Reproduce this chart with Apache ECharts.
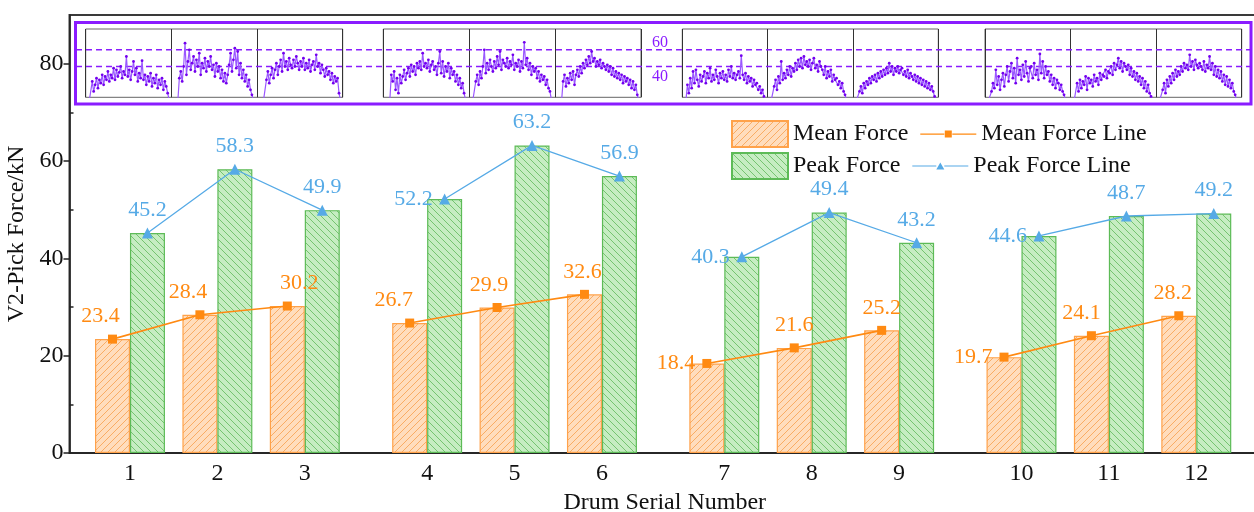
<!DOCTYPE html>
<html><head><meta charset="utf-8">
<script src="https://cdn.jsdelivr.net/npm/echarts@6/dist/echarts.min.js"></script>
<style>html,body{margin:0;padding:0;background:#fff}#c{width:1254px;height:512px}</style>
</head><body><div id="c"></div>
<script>
// ---------------- data ----------------
const drums = ['1','2','3','4','5','6','7','8','9','10','11','12'];
const meanForce = [23.4, 28.4, 30.2, 26.7, 29.9, 32.6, 18.4, 21.6, 25.2, 19.7, 24.1, 28.2];
const peakForce = [45.2, 58.3, 49.9, 52.2, 63.2, 56.9, 40.3, 49.4, 43.2, 44.6, 48.7, 49.2];
const yTicks = [0, 20, 40, 60, 80];
const yMinorTicks = [10, 30, 50, 70];
const insetLevels = [40, 60];
// force signals shown in the inset (one per drum, kN)
const sig1  = [0,0,0,0,22,10,18,26,14,24,20,30,18,28,24,34,22,30,26,38,24,36,28,33,40,26,34,30,52,28,36,24,34,46,30,38,22,32,26,47,24,30,18,28,22,32,16,26,20,30,14,24,18,26,12,22,16,8,0,0];
const sig2  = [0,0,0,0,0,26,34,22,40,68,30,46,60,36,44,52,34,48,40,56,30,44,38,50,34,46,40,52,36,42,28,44,34,40,26,36,22,32,20,30,42,56,34,48,62,38,58,30,44,26,36,22,30,16,24,12,6,0,0,0];
const sig3  = [0,0,0,0,0,0,24,34,20,30,38,26,36,44,30,40,48,34,56,40,46,36,50,42,38,48,40,52,44,36,46,40,50,36,44,38,48,34,42,46,36,54,40,44,32,42,36,28,38,30,34,24,32,20,28,22,26,8,0,0];
const sig4  = [0,0,0,0,0,30,22,34,12,26,8,30,20,28,36,24,32,38,28,42,34,40,30,44,38,46,36,56,40,44,38,48,34,42,46,36,40,30,44,58,32,46,28,40,34,44,26,38,30,34,22,30,18,26,14,20,8,0,0,0];
const sig5  = [0,0,0,0,22,30,18,34,26,40,60,32,44,36,48,40,34,46,38,52,42,58,36,48,44,40,50,38,46,42,54,36,44,40,48,34,46,38,69,42,50,36,44,30,40,34,38,26,34,22,30,24,28,18,24,14,10,0,0,0];
const sig6  = [0,0,0,0,0,22,30,16,26,20,32,24,34,18,30,36,28,40,32,44,38,48,42,52,44,58,46,50,40,46,42,48,38,44,40,36,42,34,40,30,38,28,34,26,32,24,30,20,28,22,26,18,24,14,22,12,18,6,0,0];
const sig7  = [0,0,0,18,8,26,14,34,20,36,24,16,30,22,28,34,20,32,26,38,22,30,24,36,28,20,32,26,34,24,30,22,36,28,40,26,32,24,30,34,26,53,30,24,32,20,28,22,26,16,24,18,20,12,16,8,12,4,0,0];
const sig8  = [0,0,0,0,16,24,12,28,20,46,24,32,26,36,30,40,28,38,34,44,36,48,40,50,38,52,42,46,40,48,36,44,50,38,42,34,46,40,36,30,40,26,34,28,36,22,30,24,26,18,22,14,20,10,6,0,0,0,0,0];
const sig9  = [0,0,0,0,10,16,8,20,14,22,18,26,20,28,24,30,22,32,26,34,28,36,30,38,32,44,34,40,30,38,34,40,32,36,38,30,34,28,36,26,32,28,24,30,22,28,20,26,18,24,16,22,14,20,12,16,10,4,0,0];
const sig10 = [0,0,0,0,10,20,14,36,18,28,12,24,32,16,30,40,22,34,44,26,38,20,50,30,36,24,42,28,46,32,22,38,40,26,44,30,36,24,55,32,46,26,40,30,34,22,30,18,26,14,24,20,12,18,10,6,0,0,0,0];
const sig11 = [0,0,0,0,20,10,24,14,22,18,28,12,26,20,24,16,30,22,26,18,32,24,30,28,36,26,34,32,40,30,44,36,42,50,38,46,34,44,40,36,42,30,38,28,34,24,32,22,28,18,26,14,22,10,18,8,4,0,0,0];
const sig12 = [0,0,0,0,12,20,8,24,16,28,20,32,24,36,28,34,30,40,34,44,38,42,36,54,40,46,36,48,42,38,44,40,36,46,34,42,38,52,36,44,30,40,28,36,26,34,22,30,18,28,16,24,14,20,10,6,0,0,0,0];
const signals = [sig1,sig2,sig3,sig4,sig5,sig6,sig7,sig8,sig9,sig10,sig11,sig12];

// ---------------- layout / style ----------------
const FONT = 'Liberation Serif';
const groupSize = 3, groupGap = 0.4, barHalf = 0.2;
const meanLabelSide = ['top','top','top','top','top','top','left','top','top','left','top','top'];
const meanLabelShift = [-12, -12, 12, -16, -8, -2, 0, 0, 0, 0, -10, -6];
const peakLabelSide = ['top','top','top','left','top','top','left','top','top','left','top','top'];
const pos = i => i + 1 + Math.floor(i / groupSize) * groupGap;
const positions = drums.map((d, i) => pos(i));

function hatch(bg, line, dir) {
  const s = 7, c = document.createElement('canvas');
  c.width = s; c.height = s;
  const g = c.getContext('2d');
  g.fillStyle = bg; g.fillRect(0, 0, s, s);
  g.strokeStyle = line; g.lineWidth = 0.9;
  g.beginPath();
  if (dir > 0) {
    g.moveTo(-1, s + 1); g.lineTo(s + 1, -1);
    g.moveTo(-1, 1); g.lineTo(1, -1);
    g.moveTo(s - 1, s + 1); g.lineTo(s + 1, s - 1);
  } else {
    g.moveTo(-1, -1); g.lineTo(s + 1, s + 1);
    g.moveTo(s - 1, -1); g.lineTo(s + 1, 1);
    g.moveTo(-1, s - 1); g.lineTo(1, s + 1);
  }
  g.stroke();
  return { image: c, repeat: 'repeat' };
}
const orangeFill = hatch('#FFDDBD', '#F8A65A', 1);
const greenFill = hatch('#C6EDC2', '#6CBF66', -1);

const ORANGE = '#FF8A12', BLUE = '#56AAE6', PURPLE = '#8A1CFF';
const lineIconMean = 'path://M0,3.4h24v1.3h-24z M24.5,0.5h7v7h-7z M32,3.4h24v1.3h-24z';
const lineIconPeak = 'path://M0,3.6h24v1h-24z M24,7.5l4,-7l4,7z M32,3.6h24v1h-24z';

const insetGrids = [
  { left: 85.7, width: 257 },
  { left: 383.3, width: 257.7 },
  { left: 682.3, width: 256 },
  { left: 985, width: 256.7 }
];
const insetTop = 29, insetHeight = 68.3, insetMin = 3, insetMax = 85;

const grids = [{ left: 69.5, top: 15, right: -6, bottom: 59, show: true, borderColor: '#3a3a3a', borderWidth: 2, containLabel: false, outerBoundsMode: 'none' }];
insetGrids.forEach(g => grids.push({ left: g.left, width: g.width, top: insetTop, height: insetHeight, show: true, borderColor: '#666', borderWidth: 1, outerBoundsMode: 'none' }));
grids.push({ left: 76, right: 3, top: insetTop, height: insetHeight, show: false, outerBoundsMode: 'none' });

const xAxes = [{
  type: 'value', gridIndex: 0, min: 0.308, max: 13.929,
  axisLine: { lineStyle: { color: '#222', width: 1.6 } },
  axisTick: { show: false },
  splitLine: { show: false },
  axisLabel: {
    customValues: positions, margin: 9,
    formatter: v => { const i = positions.findIndex(p => Math.abs(p - v) < 1e-6); return i >= 0 ? drums[i] : ''; },
    fontFamily: FONT, fontSize: 24, color: '#111'
  },
  name: 'Drum Serial Number', nameLocation: 'middle', nameGap: 28,
  nameTextStyle: { fontFamily: FONT, fontSize: 24, color: '#111' }
}];
const yAxes = [{
  type: 'value', gridIndex: 0, min: 0, max: 90, position: 'left',
  axisLine: { show: true, lineStyle: { color: '#222', width: 1.6 } },
  axisTick: { show: true, customValues: yTicks, length: 6, lineStyle: { color: '#222', width: 1.5 } },
  axisLabel: { customValues: yTicks, fontFamily: FONT, fontSize: 24, color: '#111', margin: 6 },
  splitLine: { show: false },
  name: 'V2-Pick Force/kN', nameLocation: 'middle', nameGap: 34,
  nameTextStyle: { fontFamily: FONT, fontSize: 24, color: '#111' }
}, {
  type: 'value', gridIndex: 0, min: 0, max: 90, position: 'left', offset: 0,
  axisLine: { show: false },
  axisTick: { show: true, customValues: yMinorTicks, inside: true, length: 4, lineStyle: { color: '#222', width: 1.5 } },
  axisLabel: { show: false }, splitLine: { show: false }
}];
insetGrids.forEach((g, k) => {
  xAxes.push({ type: 'value', gridIndex: k + 1, min: 0, max: 3, interval: 1,
    axisLine: { show: false }, axisTick: { show: false }, axisLabel: { show: false },
    splitLine: { show: true, lineStyle: { color: '#333', width: 1 } } });
  yAxes.push({ type: 'value', gridIndex: k + 1, min: insetMin, max: insetMax, show: false, splitLine: { show: false } });
});
xAxes.push({ type: 'value', gridIndex: 5, min: 0, max: 1, show: false });
yAxes.push({ type: 'value', gridIndex: 5, min: insetMin, max: insetMax, show: false });

const labelFont = { fontFamily: FONT, fontSize: 22 };
const series = [
  { name: 'Mean Force', type: 'bar', xAxisIndex: 0, yAxisIndex: 0, barWidth: 35, barGap: '-100%',
    itemStyle: { color: orangeFill, borderColor: '#FFA24A', borderWidth: 1.2 },
    data: meanForce.map((v, i) => [positions[i] - barHalf, v]) },
  { name: 'Peak Force', type: 'bar', xAxisIndex: 0, yAxisIndex: 0, barWidth: 35, barGap: '-100%',
    itemStyle: { color: greenFill, borderColor: '#5DBB57', borderWidth: 1.2 },
    data: peakForce.map((v, i) => [positions[i] + barHalf, v]) }
];
function lineData(vals, off, sides, shifts) {
  const out = [];
  vals.forEach((v, i) => {
    if (i > 0 && i % groupSize === 0) out.push([positions[i] - 0.7, '-']);
    out.push({ value: [positions[i] + off, v], label: { position: sides[i], offset: [shifts ? shifts[i] : 0, 0] } });
  });
  return out;
}
series.push({ name: 'Mean Force Line', type: 'line', xAxisIndex: 0, yAxisIndex: 0, connectNulls: false,
  symbol: 'rect', symbolSize: 9, z: 5,
  itemStyle: { color: ORANGE }, lineStyle: { color: ORANGE, width: 1.6 },
  label: { show: true, distance: 7, color: ORANGE, ...labelFont, formatter: p => p.value[1].toFixed(1) },
  data: lineData(meanForce, -barHalf, meanLabelSide, meanLabelShift) });
series.push({ name: 'Peak Force Line', type: 'line', xAxisIndex: 0, yAxisIndex: 0, connectNulls: false,
  symbol: 'triangle', symbolSize: 11, z: 5,
  itemStyle: { color: BLUE }, lineStyle: { color: BLUE, width: 1.3 },
  label: { show: true, distance: 6.5, color: BLUE, ...labelFont, formatter: p => p.value[1].toFixed(1) },
  data: lineData(peakForce, barHalf, peakLabelSide, null) });
insetLevels.forEach(lv => series.push({ type: 'line', xAxisIndex: 5, yAxisIndex: 6, symbol: 'none', silent: true, z: 3,
  lineStyle: { color: PURPLE, width: 1.5, type: [6, 4] }, data: [[0, lv], [1, lv]] }));
signals.forEach((s, k) => {
  const panel = k % groupSize, grp = Math.floor(k / groupSize);
  series.push({ type: 'line', xAxisIndex: grp + 1, yAxisIndex: grp + 2, symbol: 'circle', symbolSize: 2.8,
    showAllSymbol: true, silent: true, z: 6,
    itemStyle: { color: '#7300EE' }, lineStyle: { color: '#9A58FF', width: 1.2 },
    data: s.map((v, i) => [panel + 0.01 + 0.98 * i / (s.length - 1), v]) });
});

const legendText = { fontFamily: FONT, fontSize: 24, color: '#111' };
const option = {
  animation: false,
  backgroundColor: '#fff',
  grid: grids, xAxis: xAxes, yAxis: yAxes, series,
  legend: [
    { left: 726, top: 115, orient: 'horizontal', itemWidth: 56, itemHeight: 26, itemGap: 12, textStyle: legendText,
      selectedMode: false,
      data: [{ name: 'Mean Force', icon: 'rect' }, { name: 'Mean Force Line', icon: lineIconMean, itemStyle: { borderWidth: 0 } }] },
    { left: 726, top: 147, orient: 'horizontal', itemWidth: 56, itemHeight: 26, itemGap: 12, textStyle: legendText,
      selectedMode: false,
      data: [{ name: 'Peak Force', icon: 'rect' }, { name: 'Peak Force Line', icon: lineIconPeak, itemStyle: { borderWidth: 0 } }] }
  ],
  graphic: [
    { type: 'rect', shape: { x: 75.5, y: 22.5, width: 1175.5, height: 81.5 }, style: { fill: 'none', stroke: PURPLE, lineWidth: 3 }, z: 10 },
    { type: 'text', x: 660, y: 43, style: { text: String(insetLevels[1]), fill: PURPLE, font: '16px "Liberation Serif"', textAlign: 'center', textVerticalAlign: 'middle' }, z: 10 },
    { type: 'text', x: 660, y: 77, style: { text: String(insetLevels[0]), fill: PURPLE, font: '16px "Liberation Serif"', textAlign: 'center', textVerticalAlign: 'middle' }, z: 10 }
  ]
};
const chart = echarts.init(document.getElementById('c'), null, { renderer: 'canvas' });
chart.setOption(option);
</script>
</body></html>
